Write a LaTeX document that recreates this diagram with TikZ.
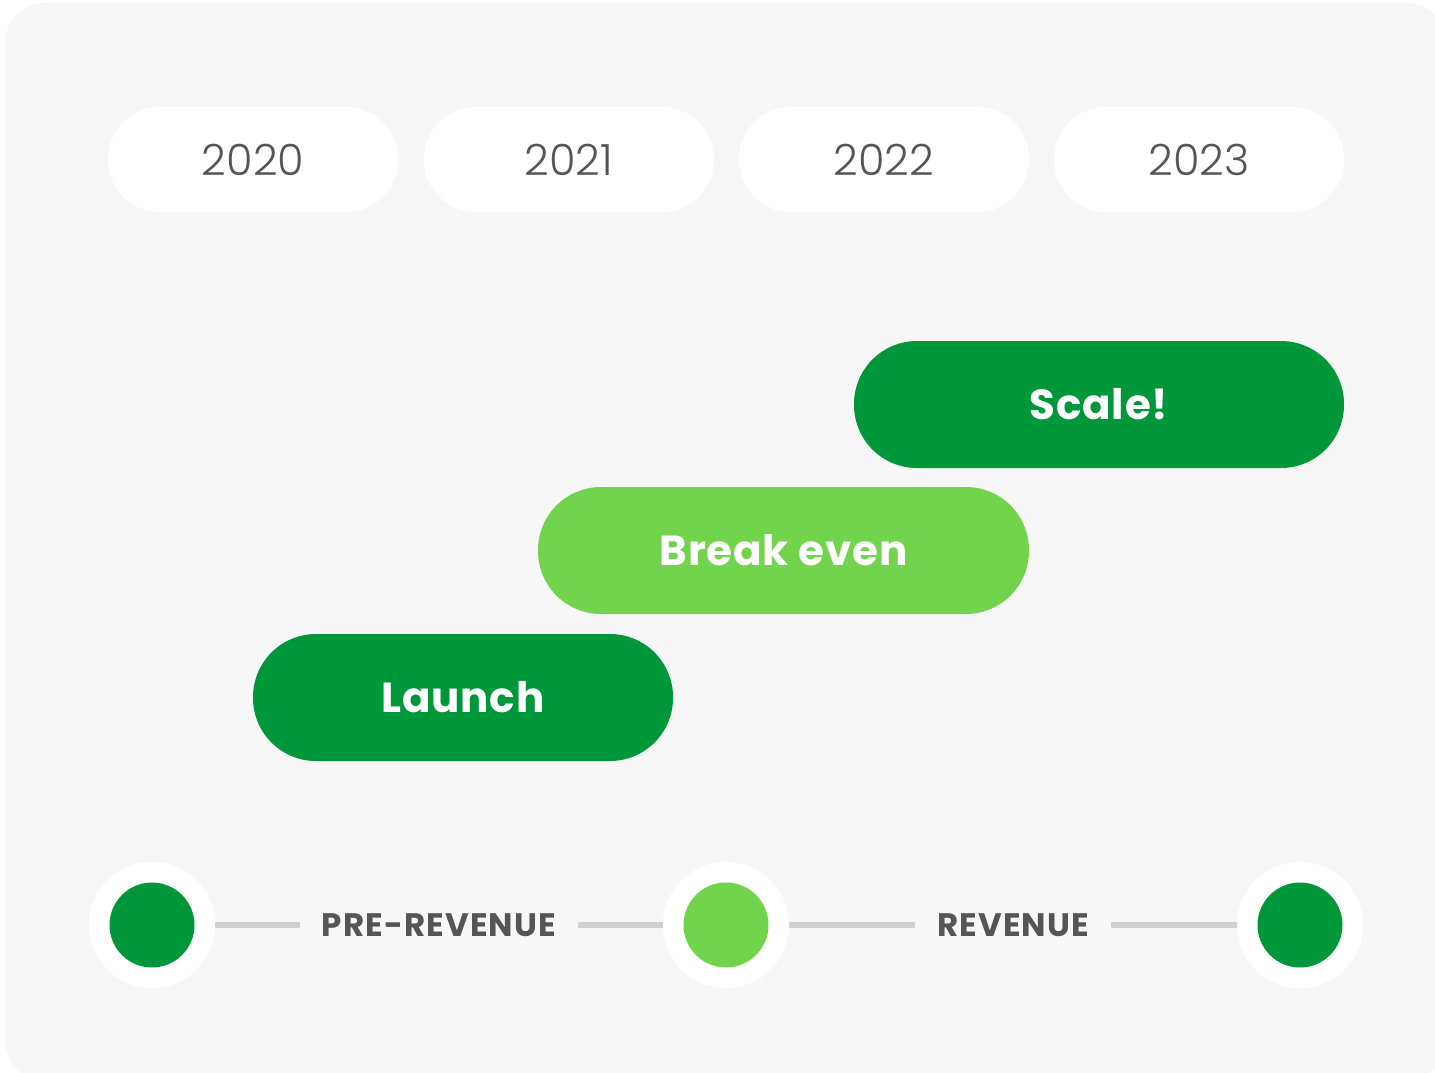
\documentclass[tikz,border=0pt]{standalone}
\usepackage{fontspec}
\setmainfont{Poppins}
\newfontfamily\lightfont{Poppins Light}
\newfontfamily\boldfont{Poppins Bold}
\definecolor{panel}{HTML}{F7F7F7}
\definecolor{darkgreen}{HTML}{00963A}
\definecolor{lightgreen}{HTML}{72D34C}
\definecolor{inkgray}{HTML}{555555}
\definecolor{rulegray}{HTML}{D0D0D0}
\tikzset{
  yearpill/.style={fill=white, rounded corners=52pt, minimum width=290pt, minimum height=105pt,
    inner sep=0pt, text=inkgray, font=\lightfont\fontsize{43}{50}\selectfont},
  phasepill/.style={rounded corners=63pt, minimum height=127pt, inner sep=0pt,
    text=white, font=\boldfont\fontsize{42}{48}\selectfont\addfontfeatures{LetterSpace=2}},
  ring/.style={circle, fill=white, minimum size=126pt, inner sep=0pt},
  dot/.style={circle, minimum size=85pt, inner sep=0pt},
  phaseline/.style={draw=rulegray, line width=6pt},
  phaselabel/.style={fill=panel, inner xsep=22pt, inner ysep=4pt, text=inkgray,
    font=\boldfont\fontsize{32.5}{36}\selectfont\addfontfeatures{LetterSpace=3.5}},
}
\begin{document}
\begin{tikzpicture}[x=1pt, y=-1pt]
\useasboundingbox (0,0) rectangle (1435,1073);
% panel
\fill[panel, rounded corners=40pt] (5,3) rectangle (1447,1080);

% year headers
\node[yearpill] (y2020) at (253,159.5) {2020};
\node[yearpill] (y2021) at (569,159.5) {2021};
\node[yearpill] (y2022) at (884,159.5) {2022};
\node[yearpill] (y2023) at (1199,159.5) {2023};

% phase bars
\node[phasepill, fill=darkgreen, minimum width=490pt] (scale) at (1099,404.5) {Scale!};
\node[phasepill, fill=lightgreen, minimum width=491pt] (breakeven) at (783.5,550.5) {Break even};
\node[phasepill, fill=darkgreen, minimum width=420pt] (launch) at (463,697.5) {Launch};

% milestone markers
\node[ring] (r1) at (152,925) {};
\node[ring] (r2) at (726,925) {};
\node[ring] (r3) at (1300,925) {};
\draw[phaseline] (r1) -- (r2) node[midway, phaselabel] (pre) {PRE-REVENUE};
\draw[phaseline] (r2) -- (r3) node[midway, phaselabel] (rev) {REVENUE};
\node[ring] at (r1) {};
\node[ring] at (r2) {};
\node[ring] at (r3) {};
\node[dot, fill=darkgreen] (d1) at (r1) {};
\node[dot, fill=lightgreen] (d2) at (r2) {};
\node[dot, fill=darkgreen] (d3) at (r3) {};
\end{tikzpicture}
\end{document}
